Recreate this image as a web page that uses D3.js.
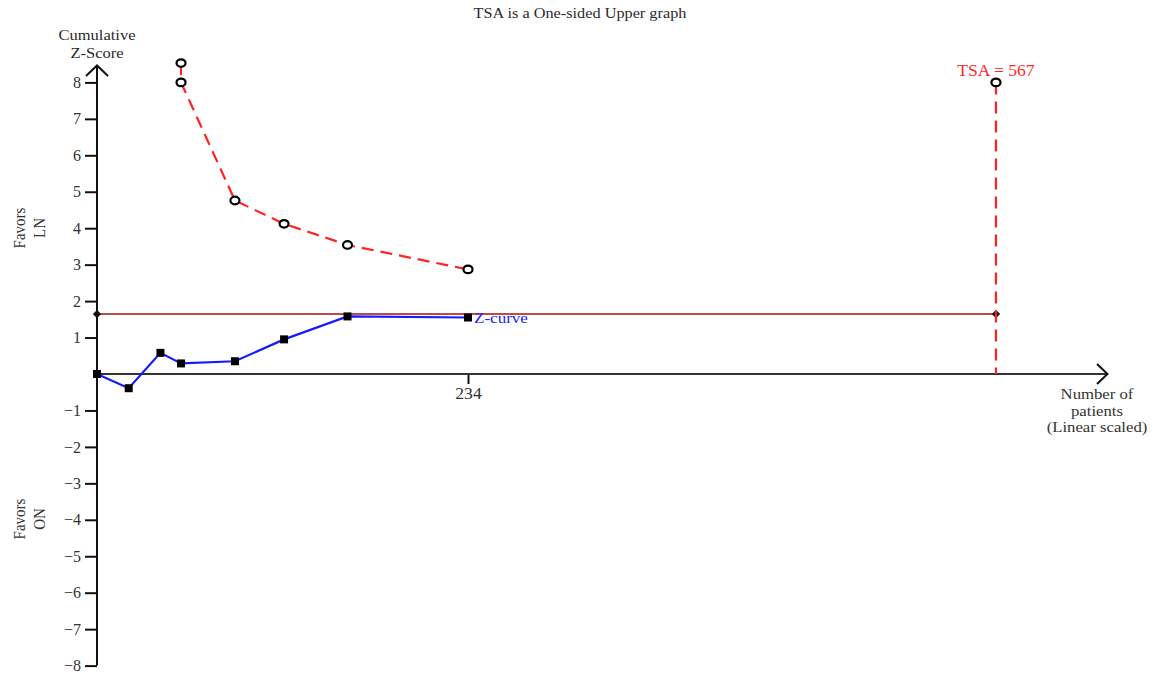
<!DOCTYPE html>
<html>
<head>
<meta charset="utf-8">
<script src="https://cdn.jsdelivr.net/npm/d3@7"></script>
<style>
  html, body { margin: 0; padding: 0; background: #fff; }
  svg { display: block; font-family: "Liberation Serif", "Times New Roman", serif; }
</style>
</head>
<body>
<svg id="chart" width="1156" height="674"></svg>
<script>
// Cumulative Z-curve (patients accrued, cumulative Z)
const zPatients = [0, 20, 40, 53, 87, 118, 158, 234];
const zValues   = [0, -0.39, 0.58, 0.29, 0.35, 0.95, 1.58, 1.55];

// Upper monitoring boundary
const boundaryPatients = [53, 53, 87, 118, 158, 234];
const boundaryValues   = [8.53, 8.0, 4.76, 4.12, 3.54, 2.87];

// Required information size and conventional threshold
const tsaPatients = 567;
const tsaZ = 8;
const conventionalZ = 1.645;

const xTicks = [234];
const yTicks = [8, 7, 6, 5, 4, 3, 2, 1, -1, -2, -3, -4, -5, -6, -7, -8];

const svg = d3.select("#chart");

const x = d3.scaleLinear().domain([0, 234]).range([97, 468]);
const y = d3.scaleLinear().domain([-8, 8]).range([665.6, 82.4]);

const minus = v => (v < 0 ? "\u2212" + Math.abs(v) : String(v));

// Serif text, slightly widened
const STRETCH = 1.1;
function label(px, py, str, size, anchor, fill) {
  return svg.append("g").attr("transform", `translate(${px},${py}) scale(${STRETCH},1)`)
    .append("text")
    .attr("text-anchor", anchor || "start")
    .attr("font-size", size)
    .attr("fill", fill || "#2a2a2a")
    .text(str);
}

// Title
label(580, 18, "TSA is a One-sided Upper graph", 14.8, "middle");

// Y axis title
label(97, 40, "Cumulative", 15, "middle");
label(97, 57.5, "Z-Score", 15, "middle");

// Favors labels (rotated)
function favors(cy, second) {
  const g = svg.append("g").attr("transform", `translate(0,${cy}) rotate(-90) scale(1,${STRETCH})`);
  g.append("text").attr("x", 0).attr("y", 23).attr("text-anchor", "middle")
    .attr("font-size", 15).attr("fill", "#333").text("Favors");
  g.append("text").attr("x", 0).attr("y", 41).attr("text-anchor", "middle")
    .attr("font-size", 15).attr("fill", "#333").text(second);
}
favors(228, "LN");
favors(519, "ON");

// Y axis with ticks
const yAxis = d3.axisLeft(y).tickValues(yTicks).tickSize(12).tickPadding(4)
  .tickFormat(minus);
const yg = svg.append("g").attr("transform", `translate(${x(0)},0)`).call(yAxis);
yg.select(".domain").remove();
yg.selectAll(".tick line").attr("stroke", "#111").attr("stroke-width", 2);
yg.selectAll(".tick text").attr("font-family", "Liberation Serif, serif")
  .attr("font-size", 16).attr("fill", "#333");
svg.append("line")
  .attr("x1", x(0)).attr("x2", x(0))
  .attr("y1", y(-8)).attr("y2", 66)
  .attr("stroke", "#111").attr("stroke-width", 2);
svg.append("path")
  .attr("d", `M${x(0) - 11},76 L${x(0)},65.5 L${x(0) + 11},76`)
  .attr("fill", "none").attr("stroke", "#111").attr("stroke-width", 2);

// X axis with tick at 234
const xg = svg.append("g").attr("transform", `translate(0,${y(0)})`)
  .call(d3.axisBottom(x).tickValues(xTicks).tickSize(10).tickPadding(4));
xg.select(".domain").remove();
xg.selectAll(".tick line").attr("stroke", "#111").attr("stroke-width", 2);
xg.selectAll(".tick text").attr("font-family", "Liberation Serif, serif")
  .attr("font-size", 16).attr("fill", "#333")
  .attr("transform", `scale(${STRETCH},1)`);
svg.append("line")
  .attr("x1", x(0)).attr("x2", 1107)
  .attr("y1", y(0)).attr("y2", y(0))
  .attr("stroke", "#333").attr("stroke-width", 2);
svg.append("path")
  .attr("d", `M1097,${y(0) - 10} L1107.5,${y(0)} L1097,${y(0) + 10}`)
  .attr("fill", "none").attr("stroke", "#111").attr("stroke-width", 2);

// X axis title
["Number of", "patients", "(Linear scaled)"].forEach((t, i) => {
  label(1097, 399 + i * 16.5, t, 15.2, "middle", "#333");
});

// Conventional threshold line with diamond ends
svg.append("line")
  .attr("x1", x(0)).attr("x2", x(tsaPatients))
  .attr("y1", y(conventionalZ)).attr("y2", y(conventionalZ))
  .attr("stroke", "#a01010").attr("stroke-width", 1.6);
[0, tsaPatients].forEach(p => {
  svg.append("path")
    .attr("d", d3.symbol(d3.symbolDiamond2, 44)())
    .attr("transform", `translate(${x(p)},${y(conventionalZ)})`)
    .attr("fill", "#111");
});

// TSA vertical dashed line
svg.append("line")
  .attr("x1", x(tsaPatients)).attr("x2", x(tsaPatients))
  .attr("y1", y(tsaZ)).attr("y2", y(0))
  .attr("stroke", "#ff2222").attr("stroke-width", 2.2)
  .attr("stroke-dasharray", "12,7");
label(x(tsaPatients), 76, "TSA = " + tsaPatients, 16, "middle", "#ff2a2a");

// Monitoring boundary
const bPts = boundaryPatients.map((p, i) => [p, boundaryValues[i]]);
svg.append("path")
  .datum(bPts)
  .attr("d", d3.line().x(d => x(d[0])).y(d => y(d[1])))
  .attr("fill", "none").attr("stroke", "#ff2222").attr("stroke-width", 2.2)
  .attr("stroke-dasharray", "12,7");

// Z-curve
const zPts = zPatients.map((p, i) => [p, zValues[i]]);
svg.append("path")
  .datum(zPts)
  .attr("d", d3.line().x(d => x(d[0])).y(d => y(d[1])))
  .attr("fill", "none").attr("stroke", "#1a1aff").attr("stroke-width", 2.2);
svg.selectAll(".zpt").data(zPts).enter().append("rect")
  .attr("class", "zpt")
  .attr("x", d => x(d[0]) - 4).attr("y", d => y(d[1]) - 4)
  .attr("width", 8).attr("height", 8).attr("fill", "#000");
label(x(zPatients[zPatients.length - 1]) + 6, y(zValues[zValues.length - 1]) + 5,
  "Z-curve", 15.5, "start", "#2020ff");

// Boundary markers (open circles)
svg.selectAll(".bpt").data(bPts.concat([[tsaPatients, tsaZ]])).enter().append("ellipse")
  .attr("class", "bpt")
  .attr("cx", d => x(d[0])).attr("cy", d => y(d[1]))
  .attr("rx", 4.5).attr("ry", 3.8)
  .attr("fill", "#fff").attr("stroke", "#000").attr("stroke-width", 2.2);
</script>
</body>
</html>
